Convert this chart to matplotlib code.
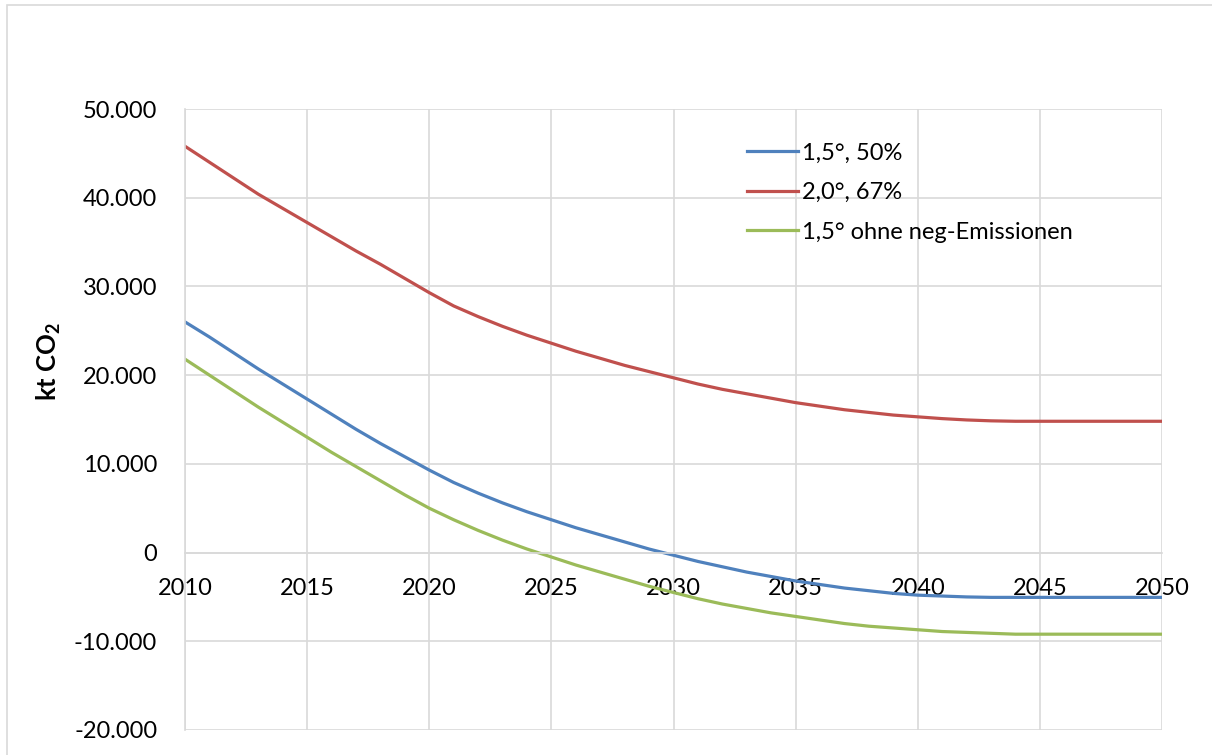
import matplotlib.pyplot as plt
from matplotlib.patches import Rectangle

years = list(range(2010, 2051))

# Werte in kt CO2
red_20_67 = [45800, 44000, 42200, 40400, 38800, 37200, 35600, 34000, 32500, 30900,
             29300, 27800, 26600, 25500, 24500, 23600, 22700, 21900, 21100, 20400,
             19700, 19000, 18400, 17900, 17400, 16900, 16500, 16100, 15800, 15500,
             15300, 15100, 14950, 14850, 14800, 14800, 14800, 14800, 14800, 14800, 14800]
blue_15_50 = [26000, 24300, 22500, 20700, 19000, 17300, 15600, 13900, 12300, 10800,
              9300, 7900, 6700, 5600, 4600, 3700, 2800, 2000, 1200, 400,
              -300, -1000, -1600, -2200, -2700, -3200, -3600, -4000, -4300, -4600,
              -4800, -4900, -5000, -5050, -5050, -5050, -5050, -5050, -5050, -5050, -5050]
green_15_ohne = [21800, 20000, 18200, 16400, 14700, 13000, 11300, 9700, 8100, 6500,
                 5000, 3700, 2500, 1400, 400, -500, -1400, -2200, -3000, -3800,
                 -4500, -5200, -5800, -6300, -6800, -7200, -7600, -8000, -8300, -8500,
                 -8700, -8900, -9000, -9100, -9200, -9200, -9200, -9200, -9200, -9200, -9200]

labels = ['1,5°, 50%', '2,0°, 67%', '1,5° ohne neg-Emissionen']
colors = ['#4F81BD', '#C0504D', '#9BBB59']

plt.rcParams['font.family'] = ['Lato', 'DejaVu Sans']
plt.rcParams['mathtext.fontset'] = 'custom'
plt.rcParams['mathtext.bf'] = 'Lato:bold'
plt.rcParams['mathtext.rm'] = 'Lato'

fig = plt.figure(figsize=(12.12, 7.55), dpi=100)
ax = fig.add_axes([185/1212, 1 - 730/755, (1162-185)/1212, (730-109)/755])

# Rahmen des Diagrammbereichs
fig.patches.append(Rectangle((7/1212, -0.01), 1.0, 1 - 5/755 + 0.01, transform=fig.transFigure,
                             fill=False, edgecolor='#D9D9D9', linewidth=1.2))

ax.plot(years, blue_15_50, color=colors[0], lw=2.3, label=labels[0])
ax.plot(years, red_20_67, color=colors[1], lw=2.3, label=labels[1])
ax.plot(years, green_15_ohne, color=colors[2], lw=2.3, label=labels[2])

ax.set_xlim(2010, 2050)
ax.set_ylim(-20000, 50000)
ax.set_xticks(range(2010, 2051, 5))
ax.set_yticks(range(-20000, 50001, 10000))
ax.set_yticklabels([f'{v:,}'.replace(',', '.') for v in range(-20000, 50001, 10000)])
ax.grid(True, color='#D9D9D9', lw=1.2)
ax.set_axisbelow(True)

for s in ['top', 'right']:
    ax.spines[s].set_visible(False)
ax.spines['left'].set_color('#D9D9D9')
ax.spines['left'].set_linewidth(1.2)
ax.spines['bottom'].set_position(('data', 0))
ax.spines['bottom'].set_color('#D9D9D9')
ax.spines['bottom'].set_linewidth(1.2)

ax.tick_params(axis='both', length=0, labelsize=17)
ax.tick_params(axis='x', pad=18)
ax.tick_params(axis='y', pad=20)

ax.set_ylabel(r'kt CO$_\mathbf{2}$', fontsize=18.5, fontweight='bold')
ax.yaxis.set_label_coords(-0.125, 0.594)

ax.legend(loc='upper left', bbox_to_anchor=(0.553, 0.98), frameon=False, fontsize=17,
          handlelength=2.2, handletextpad=0.15, labelspacing=0.78)

fig.savefig('out.png', dpi=100)
